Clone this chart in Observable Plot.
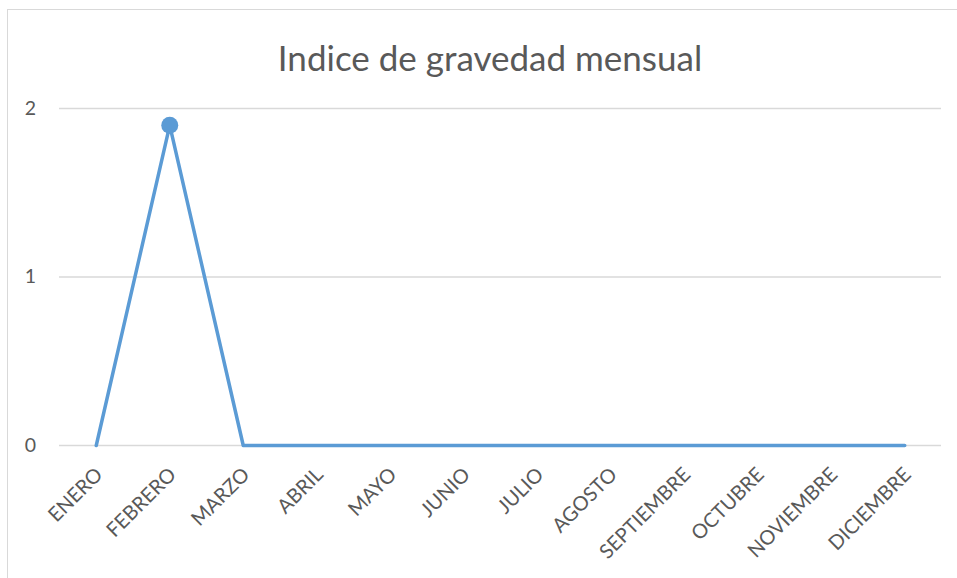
<!DOCTYPE html>
<html>
<head>
<meta charset="utf-8">
<script src="https://cdn.jsdelivr.net/npm/d3@7"></script>
<script src="https://cdn.jsdelivr.net/npm/@observablehq/plot@0.6"></script>
<style>
  html, body { margin: 0; padding: 0; background: #fff; }
  #wrap { position: relative; width: 957px; height: 578px; overflow: hidden; }
  #border { position: absolute; left: 7px; top: 9px; width: 1000px; height: 640px; border: 1px solid #d9d9d9; box-sizing: border-box; }
  #chart { position: absolute; left: 0; top: 0; }
</style>
</head>
<body>
<div id="wrap"><div id="border"></div><div id="chart"></div></div>
<script>
const title = "Indice de gravedad mensual";
const months = ["ENERO","FEBRERO","MARZO","ABRIL","MAYO","JUNIO","JULIO","AGOSTO","SEPTIEMBRE","OCTUBRE","NOVIEMBRE","DICIEMBRE"];
const values = [0, 1.9, 0, 0, 0, 0, 0, 0, 0, 0, 0, 0];
const yTicks = [0, 1, 2];
const markerMonths = ["FEBRERO"];

const data = months.map((m, i) => ({month: m, value: values[i]}));
const font = "Lato, 'Open Sans', sans-serif";

const chart = Plot.plot({
  width: 957,
  height: 578,
  marginLeft: 59,
  marginRight: 16,
  marginTop: 108,
  marginBottom: 133,
  style: {fontFamily: font, background: "transparent", overflow: "visible"},
  x: {type: "point", domain: months, padding: 0.5, round: false, label: null},
  y: {domain: [0, 2], ticks: yTicks, label: null},
  marks: [
    Plot.gridY(yTicks, {stroke: "#d9d9d9", strokeOpacity: 1, strokeWidth: 1.5}),
    Plot.axisY(yTicks, {tickSize: 0, tickPadding: 0, dx: -29, textAnchor: "middle", fontSize: 19.5, fill: "#595959", label: null, tickFormat: d => String(d)}),
    Plot.axisX({tickSize: 0, tickRotate: -45, textAnchor: "end", fontSize: 20, fill: "#595959", dy: 14, dx: 3, label: null}),
    Plot.line(data, {x: "month", y: "value", stroke: "#5B9BD5", strokeWidth: 3.5, strokeLinejoin: "round"}),
    Plot.dot(data.filter(d => markerMonths.includes(d.month)), {x: "month", y: "value", r: 8.5, fill: "#5B9BD5", stroke: "none"}),
    Plot.text([title], {frameAnchor: "top", lineAnchor: "middle", dy: -49, dx: -10.5, fontSize: 35, fill: "#595959", fontFamily: font})
  ]
});
document.getElementById("chart").appendChild(chart);
</script>
</body>
</html>
